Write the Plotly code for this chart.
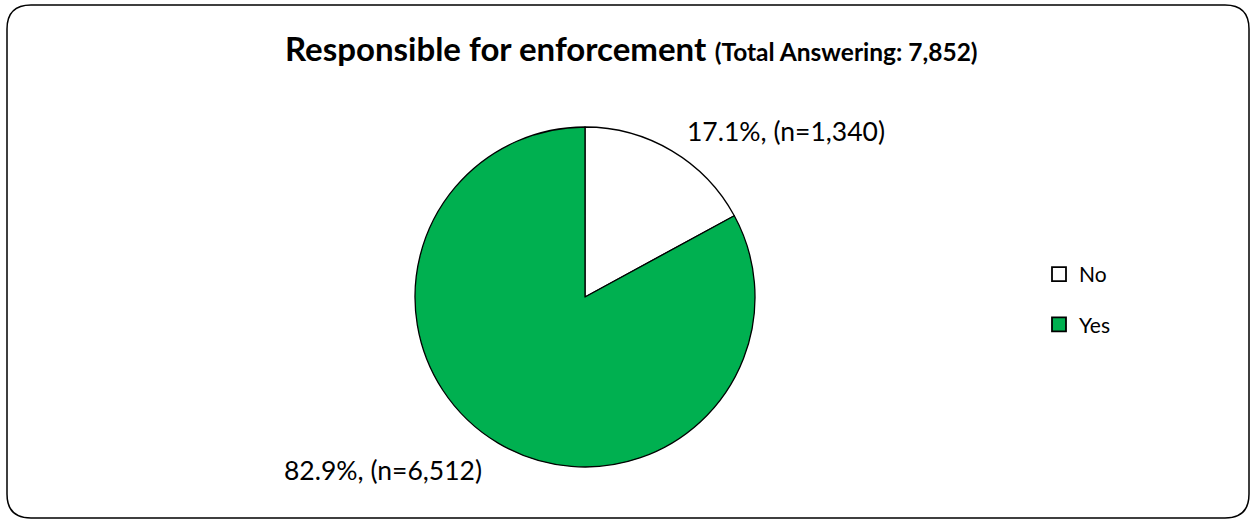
import plotly.graph_objects as go

categories = ["No", "Yes"]
counts = [1340, 6512]
percents = [17.1, 82.9]
colors = ["#FFFFFF", "#00B050"]
title_main = "Responsible for enforcement"
title_sub = "(Total Answering: 7,852)"

W, H = 1253, 521
FONT = "Lato"

def px(x):
    return x / W

def py(y):
    return 1 - y / H

fig = go.Figure()
fig.add_trace(go.Pie(
    labels=categories, values=counts, sort=False, direction="clockwise", rotation=0,
    marker=dict(colors=colors, line=dict(color="black", width=1.3)),
    textinfo="none", hoverinfo="label+percent+value", showlegend=False,
    domain=dict(x=[px(415), px(755)], y=[py(467), py(127)]),
))

# legend entries
for i, (c, col) in enumerate(zip(categories, colors)):
    fig.add_trace(go.Scatter(
        x=[None], y=[None], mode="markers", name=c, legendgroup=c,
        marker=dict(symbol="square", size=14, color=col, line=dict(color="black", width=1.8)),
    ))

label_pos = [(786, 131), (383, 470)]
for (lx, ly), p, n in zip(label_pos, percents, counts):
    fig.add_annotation(
        x=px(lx), y=py(ly), xref="paper", yref="paper", showarrow=False,
        text=f"{p:.1f}%, (n={n:,})", font=dict(family=FONT, size=26.5, color="black"),
        xanchor="center", yanchor="middle",
    )

fig.add_annotation(
    x=px(631), y=py(48), xref="paper", yref="paper", showarrow=False,
    text=f"<b>{title_main}</b> <b><span style='font-size:24.5px'>{title_sub}</span></b>",
    font=dict(family=FONT, size=33, color="black"), xanchor="center", yanchor="middle",
)

# rounded border
x0, y0, x1, y1, r = 7, 5, 1249, 518, 24
path = (f"M {px(x0+r)},{py(y0)} L {px(x1-r)},{py(y0)} "
        f"Q {px(x1)},{py(y0)} {px(x1)},{py(y0+r)} L {px(x1)},{py(y1-r)} "
        f"Q {px(x1)},{py(y1)} {px(x1-r)},{py(y1)} L {px(x0+r)},{py(y1)} "
        f"Q {px(x0)},{py(y1)} {px(x0)},{py(y1-r)} L {px(x0)},{py(y0+r)} "
        f"Q {px(x0)},{py(y0)} {px(x0+r)},{py(y0)} Z")
fig.add_shape(type="path", path=path, xref="paper", yref="paper",
              line=dict(color="black", width=1.5))

fig.update_layout(
    width=W, height=H, margin=dict(l=0, r=0, t=0, b=0),
    paper_bgcolor="white", plot_bgcolor="white",
    xaxis=dict(visible=False), yaxis=dict(visible=False),
    font=dict(family=FONT, color="black"),
    legend=dict(x=px(1039), y=py(254), xanchor="left", yanchor="top",
                font=dict(family=FONT, size=21, color="black"),
                tracegroupgap=20, itemwidth=30, bgcolor="rgba(0,0,0,0)"),
)

fig.write_html("out.html")
